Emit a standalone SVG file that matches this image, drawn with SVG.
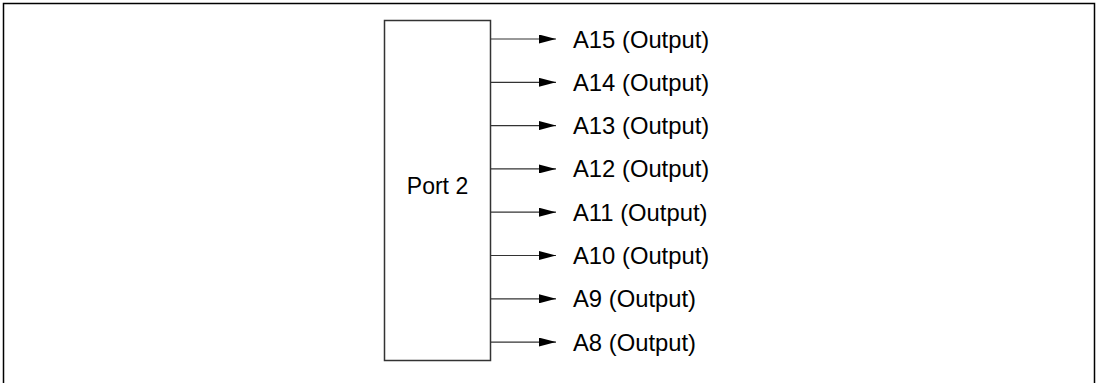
<svg xmlns="http://www.w3.org/2000/svg" width="1100" height="383" viewBox="0 0 1100 383">
<defs>
<style>
.frame{fill:none;stroke:#000;stroke-width:1.5}
.box{fill:#fff;stroke:#333;stroke-width:1.5}
.wire{stroke:#333;stroke-width:1.2;fill:none;marker-end:url(#ah)}
.lbl{font-family:"Liberation Sans",Arial,sans-serif;font-size:23.8px;fill:#000}
.title{font-family:"Liberation Sans",Arial,sans-serif;font-size:23px;fill:#000}
</style>
<marker id="ah" viewBox="0 0 17 9" refX="17" refY="4.5" markerWidth="17" markerHeight="9" markerUnits="userSpaceOnUse" orient="auto">
<path d="M0,0 L17,4.5 L0,9 Z" fill="#000"/>
</marker>
</defs>
<rect width="1100" height="383" fill="#fff"/>
<path class="frame" d="M3.5,383 V3.5 H1094.5 V383"/>
<g id="port2">
<rect class="box" x="384.5" y="20.5" width="106" height="340"/>
<text class="title" x="437.5" y="194" text-anchor="middle">Port 2</text>
</g>
<g id="connectors">
<line class="wire" x1="491" y1="39" x2="556" y2="39"/>
<line class="wire" x1="491" y1="82.3" x2="556" y2="82.3"/>
<line class="wire" x1="491" y1="125.6" x2="556" y2="125.6"/>
<line class="wire" x1="491" y1="168.9" x2="556" y2="168.9"/>
<line class="wire" x1="491" y1="212.2" x2="556" y2="212.2"/>
<line class="wire" x1="491" y1="255.5" x2="556" y2="255.5"/>
<line class="wire" x1="491" y1="298.8" x2="556" y2="298.8"/>
<line class="wire" x1="491" y1="342.1" x2="556" y2="342.1"/>
</g>
<g id="a15"><text class="lbl" x="573" y="47.5">A15 (Output)</text></g>
<g id="a14"><text class="lbl" x="573" y="90.8">A14 (Output)</text></g>
<g id="a13"><text class="lbl" x="573" y="134.1">A13 (Output)</text></g>
<g id="a12"><text class="lbl" x="573" y="177.4">A12 (Output)</text></g>
<g id="a11"><text class="lbl" x="573" y="220.7">A11 (Output)</text></g>
<g id="a10"><text class="lbl" x="573" y="264">A10 (Output)</text></g>
<g id="a9"><text class="lbl" x="573" y="307.3">A9 (Output)</text></g>
<g id="a8"><text class="lbl" x="573" y="350.6">A8 (Output)</text></g>
</svg>
